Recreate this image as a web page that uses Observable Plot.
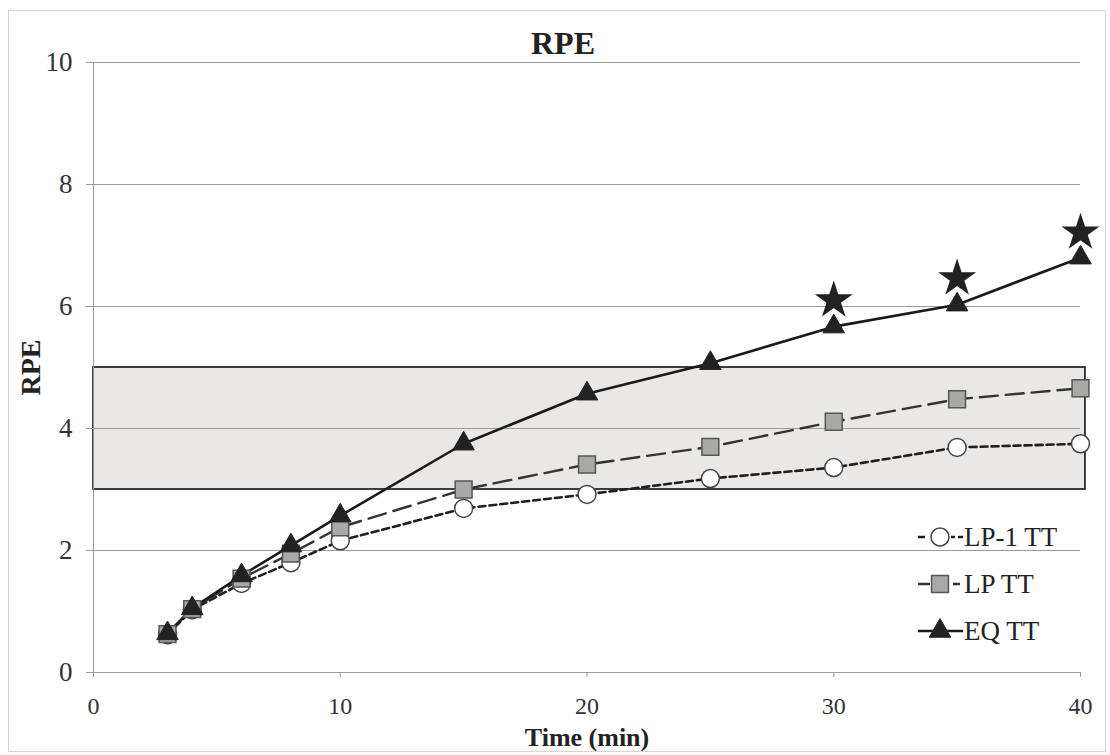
<!DOCTYPE html>
<html><head><meta charset="utf-8">
<script src="https://cdn.jsdelivr.net/npm/d3@7"></script>
<script src="https://cdn.jsdelivr.net/npm/@observablehq/plot@0.6"></script>
<style>
body{margin:0;background:#fff;}
#wrap{position:relative;width:1110px;height:755px;font-family:"Liberation Serif",serif;}
#border{position:absolute;left:8px;top:10px;width:1096px;height:740px;border:1px solid #d4d4d4;pointer-events:none;}
#wrap svg.plot{position:absolute;left:0;top:0;}
.leg{position:absolute;left:917px;height:40px;display:flex;align-items:center;font-size:27px;color:#222;}
.leg svg{margin-right:1px;}
</style></head>
<body>
<div id="wrap"><div id="border"></div></div>
<script>
const times = [3, 4, 6, 8, 10, 15, 20, 25, 30, 35, 40];
const lp1Values = [0.62, 1.03, 1.46, 1.80, 2.16, 2.69, 2.92, 3.18, 3.36, 3.69, 3.75];
const lpValues  = [0.63, 1.04, 1.54, 1.95, 2.38, 3.00, 3.41, 3.70, 4.11, 4.48, 4.66];
const eqValues  = [0.64, 1.05, 1.59, 2.08, 2.57, 3.75, 4.57, 5.07, 5.67, 6.03, 6.80];
const starTimes = [30, 35, 40];
const starValues = [6.10, 6.46, 7.21];
const bandLow = 3, bandHigh = 5;
const bandStart = 0, bandEnd = 40.2;
const yTicks = [0, 2, 4, 6, 8, 10];
const xTicks = [0, 10, 20, 30, 40];
const seriesNames = ["LP-1 TT", "LP TT", "EQ TT"];

const lp1 = times.map((t, i) => ({t, v: lp1Values[i]}));
const lp = times.map((t, i) => ({t, v: lpValues[i]}));
const eq = times.map((t, i) => ({t, v: eqValues[i]}));
const stars = starTimes.map((t, i) => ({t, v: starValues[i]}));

const styles = {
  "LP-1 TT": {line: {stroke: "#1e1e1e", strokeWidth: 2.6, strokeDasharray: "7,4"}, legendDash: "7,26,4,3,5", dot: {symbol: "circle", r: 9, fill: "#fff", stroke: "#444", strokeWidth: 1.5}},
  "LP TT": {line: {stroke: "#333", strokeWidth: 2.4, strokeDasharray: "18,8"}, legendDash: "12,23,7,20", dot: {symbol: "square", r: 9.5, fill: "#a9a9a7", stroke: "#555", strokeWidth: 1.5}},
  "EQ TT": {line: {stroke: "#1a1a1a", strokeWidth: 2.6}, legendDash: null, dot: {symbol: "triangle", r: 8, fill: "#222", stroke: "#222", strokeWidth: 1}}
};
const dataBy = {"LP-1 TT": lp1, "LP TT": lp, "EQ TT": eq};

const marks = [
  Plot.rect([{x1: bandStart, x2: bandEnd, y1: bandLow, y2: bandHigh}], {x1: "x1", x2: "x2", y1: "y1", y2: "y2", fill: "#e9e8e6", stroke: "#2a2a2a", strokeWidth: 1.8}),
  Plot.gridY(yTicks.slice(1), {stroke: "#9a9a9a", strokeOpacity: 1, strokeWidth: 1}),
  Plot.ruleY([0], {stroke: "#9a9a9a", strokeWidth: 1}),
  Plot.ruleX([0], {stroke: "#9a9a9a", strokeWidth: 1}),
  Plot.axisY(yTicks, {tickSize: 7, tickPadding: 14, fontSize: 27, label: null, tickFormat: d => String(d), stroke: "#9a9a9a", fill: "#333"}),
  Plot.axisX(xTicks, {tickSize: 5, tickPadding: 19, fontSize: 24, label: null, tickFormat: d => String(d), stroke: "#9a9a9a", fill: "#333"}),
];
for (const name of seriesNames) {
  marks.push(Plot.line(dataBy[name], {x: "t", y: "v", ...styles[name].line}));
}
for (const name of seriesNames) {
  marks.push(Plot.dot(dataBy[name], {x: "t", y: "v", ...styles[name].dot}));
}
marks.push(Plot.dot(stars, {x: "t", y: "v", symbol: "star", r: 10.5, fill: "#222", stroke: "#222"}));
marks.push(Plot.text(["RPE"], {frameAnchor: "top", dx: -24, dy: -19, textAnchor: "middle", lineAnchor: "middle", fontSize: 32, fontWeight: "bold", fill: "#222"}));
marks.push(Plot.text(["RPE"], {frameAnchor: "left", dx: -62, rotate: -90, textAnchor: "middle", lineAnchor: "middle", fontSize: 28, fontWeight: "bold", fill: "#222"}));
marks.push(Plot.text(["Time (min)"], {frameAnchor: "bottom", dy: 65, textAnchor: "middle", lineAnchor: "middle", fontSize: 26, fontWeight: "bold", fill: "#222"}));

const chart = Plot.plot({
  width: 1110, height: 755,
  marginLeft: 93, marginRight: 30, marginTop: 62, marginBottom: 83,
  x: {domain: [0, 40]},
  y: {domain: [0, 10]},
  style: {fontFamily: "Liberation Serif, serif", background: "transparent", color: "#222", overflow: "visible"},
  marks
});
const wrap = document.getElementById("wrap");
wrap.appendChild(chart);

// legend
const rowCenters = [537, 584, 631];
const symMap = {circle: d3.symbolCircle, square: d3.symbolSquare, triangle: d3.symbolTriangle};
seriesNames.forEach((name, i) => {
  const div = document.createElement("div");
  div.className = "leg";
  div.style.top = (rowCenters[i] - 20) + "px";
  const sw = d3.create("svg").attr("width", 46).attr("height", 30);
  const ls = styles[name].line;
  sw.append("line").attr("x1", 1).attr("x2", 46).attr("y1", 15).attr("y2", 15)
    .attr("stroke", ls.stroke).attr("stroke-width", ls.strokeWidth)
    .attr("stroke-dasharray", styles[name].legendDash);
  const ds = styles[name].dot;
  sw.append("path").attr("transform", "translate(23,15)")
    .attr("d", d3.symbol(symMap[ds.symbol], Math.PI * ds.r * ds.r)())
    .attr("fill", ds.fill).attr("stroke", ds.stroke).attr("stroke-width", ds.strokeWidth);
  div.appendChild(sw.node());
  const span = document.createElement("span");
  span.textContent = name;
  div.appendChild(span);
  wrap.appendChild(div);
});
</script>
</body></html>
